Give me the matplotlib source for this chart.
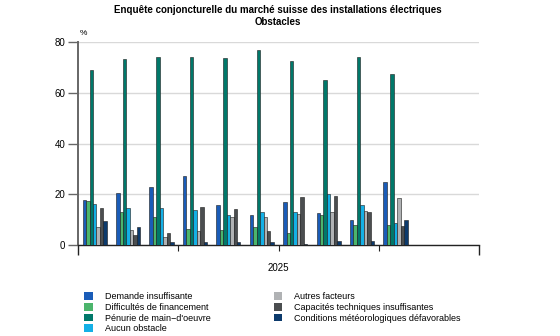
import matplotlib
matplotlib.use("Agg")
import matplotlib.pyplot as plt
import numpy as np

plt.rcParams["font.family"] = ["Liberation Sans", "DejaVu Sans"]

# mois 2025 (janv. - oct.)
months = ["2025-01", "2025-02", "2025-03", "2025-04", "2025-05",
          "2025-06", "2025-07", "2025-08", "2025-09", "2025-10"]

series = [
    "Demande insuffisante",
    "Difficultés de financement",
    "Pénurie de main\u2212d'oeuvre",
    "Aucun obstacle",
    "Autres facteurs",
    "Capacités techniques insuffisantes",
    "Conditions météorologiques défavorables",
]
colors = ["#1a5cb8", "#4cb56c", "#00786a", "#14b0e6", "#b0b2b4", "#4b4e50", "#0c3a6c"]

demande = [17.8, 20.6, 23.0, 27.0, 15.9, 11.9, 16.8, 12.7, 9.8, 24.8]
financement = [17.3, 13.0, 11.0, 6.4, 6.0, 7.2, 4.9, 11.9, 7.9, 7.9]
penurie = [69.0, 73.3, 74.0, 74.1, 73.7, 77.0, 72.7, 65.0, 74.2, 67.3]
aucun = [16.3, 14.6, 14.6, 13.8, 11.9, 12.9, 12.9, 20.2, 15.7, 8.7]
autres = [7.1, 6.0, 3.1, 5.5, 11.1, 10.9, 12.1, 13.1, 13.5, 18.4]
capacites = [14.6, 4.1, 4.6, 15.1, 14.3, 5.6, 18.8, 19.4, 13.0, 7.3]
meteo = [9.6, 7.1, 1.2, 1.2, 1.0, 1.2, 0.5, 1.7, 1.7, 10.0]
values = [demande, financement, penurie, aucun, autres, capacites, meteo]

fig = plt.figure(figsize=(5.6, 3.36), dpi=100)
ax = fig.add_axes([78 / 560, 1 - 245 / 336, 401 / 560, 203 / 336])

x = np.arange(len(months)) + 0.5
w = 0.103
for i, (name, vals, c) in enumerate(zip(series, values, colors)):
    ax.bar(x + (i - 3) * w, vals, width=w, color=c, edgecolor="#1a1a1a",
           linewidth=0.4, label=name, zorder=3)

ax.set_xlim(0, 12)
ax.set_ylim(0, 80)
ax.set_yticks([0, 20, 40, 60, 80])
ax.yaxis.grid(True, color="#d9d9d9", linewidth=1, zorder=0)
ax.tick_params(axis="y", labelsize=7, length=7, color="#666666", width=1, pad=2)

ax.set_xticks([0, 12])
ax.set_xticks([3, 6, 9], minor=True)
ax.set_xticklabels([])
ax.tick_params(axis="x", which="major", length=7, width=1, color="#222222")
ax.tick_params(axis="x", which="minor", length=4, width=0.8, color="#222222")
ax.text(6, -7, "2025", ha="center", va="top", fontsize=7)

for s in ["top", "right"]:
    ax.spines[s].set_visible(False)
ax.spines["left"].set_color("#666666")
ax.spines["left"].set_linewidth(1.4)
ax.spines["bottom"].set_color("#222222")
ax.spines["bottom"].set_linewidth(1)

ax.text(0.05, 82, "%", fontsize=6, ha="left", va="bottom")

fig.text(278 / 560, 1 - 10 / 336, "Enquête conjoncturelle du marché suisse des installations électriques",
         ha="center", va="center", fontsize=7, fontweight="bold")
fig.text(278 / 560, 1 - 22 / 336, "Obstacles", ha="center", va="center",
         fontsize=7, fontweight="bold")

fig.legend(loc="upper left", bbox_to_anchor=(84 / 560, 1 - 292 / 336), ncol=2,
           frameon=False, fontsize=6.5, handlelength=0.95, handleheight=0.95,
           handletextpad=1.35, labelspacing=0.2, columnspacing=7.0,
           borderaxespad=0, borderpad=0)
for p in fig.legends[0].get_patches():
    p.set_edgecolor("none")

fig.savefig("out.png", dpi=100)
